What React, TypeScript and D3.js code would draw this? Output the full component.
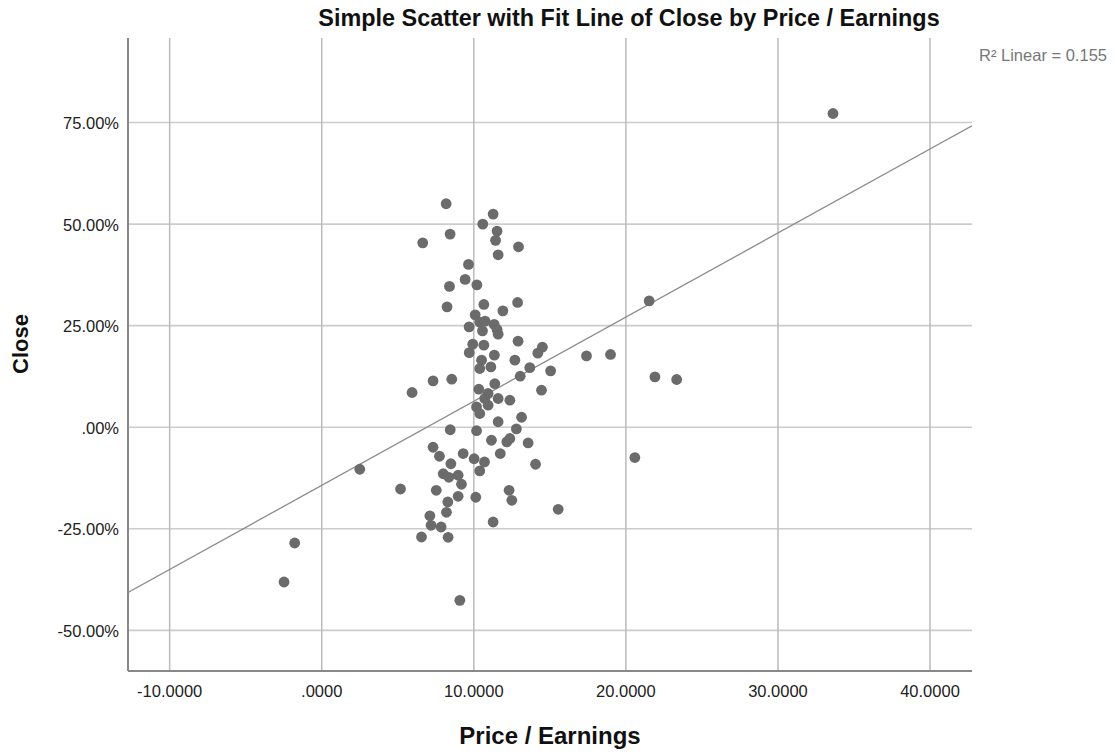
import * as d3 from "d3";
import { useEffect, useRef } from "react";

// Price / Earnings (x) and Close in % (y)
const peRatio = [
  8.18, 11.27, 10.59, 11.53, 6.64, 8.44, 11.43, 12.94, 11.6, 9.65,
  9.43, 10.2, 8.4, 8.24, 10.66, 12.88, 11.91, 10.09, 9.69, 10.39,
  10.74, 11.34, 11.53, 11.6, 10.57, 12.91, 9.93, 10.66, 9.7, 11.35,
  10.51, 10.39, 11.12, 12.7, 14.51, 14.21, 13.68, 15.05, 13.05, 7.32,
  8.55, 5.94, 14.45, 11.38, 10.33, 10.94, 10.72, 11.6, 12.37, 10.18,
  10.94, 10.39, 11.6, 13.14, 12.8, 10.18, 8.45, 11.16, 12.17, 12.37,
  11.74, 13.57, 7.32, 7.74, 9.3, 10.02, 10.7, 10.39, 14.06, 8.49,
  7.99, 8.36, 8.97, 9.19, 5.18, 7.53, 8.97, 10.13, 12.32, 12.5,
  8.29, 8.2, 15.55, 7.11, 7.19, 7.85, 11.27, 6.56, 8.31, 9.08,
  33.62, 21.53, 21.91, 23.34, 20.59, 18.99, 17.41, 2.5, -1.78, -2.48,
];
const closePct = [
  55.0, 52.46, 50.0, 48.28, 45.39, 47.54, 45.99, 44.41, 42.44, 40.07,
  36.38, 35.05, 34.66, 29.63, 30.22, 30.71, 28.65, 27.66, 24.7, 25.86,
  26.11, 25.3, 24.06, 22.91, 23.72, 21.18, 20.44, 20.2, 18.35, 17.73,
  16.5, 14.46, 14.85, 16.5, 19.7, 18.23, 14.66, 13.87, 12.56, 11.4,
  11.82, 8.55, 9.11, 10.71, 9.36, 8.3, 7.07, 7.07, 6.65, 5.0,
  5.42, 3.37, 1.35, 2.46, -0.42, -0.86, -0.62, -3.2, -3.62, -2.78,
  -6.48, -3.87, -4.93, -7.14, -6.48, -7.76, -8.55, -10.76, -9.11, -8.99,
  -11.45, -12.32, -11.82, -14.04, -15.2, -15.52, -17.0, -17.24, -15.52, -17.98,
  -18.4, -20.94, -20.2, -21.8, -24.14, -24.56, -23.33, -27.02, -27.09, -42.61,
  77.22, 31.11, 12.39, 11.75, -7.46, 17.91, 17.56, -10.34, -28.5, -38.1,
];

const xTicks = [-10, 0, 10, 20, 30, 40];
const xTickLabels = ["-10.0000", ".0000", "10.0000", "20.0000", "30.0000", "40.0000"];
const yTicks = [-50, -25, 0, 25, 50, 75];
const yTickLabels = ["-50.00%", "-25.00%", ".00%", "25.00%", "50.00%", "75.00%"];

// linear fit shown in the chart
const fitIntercept = -14.3;
const fitSlope = 2.07;
const r2Label = "R\u00b2 Linear = 0.155";

const App = () => {
  const svgRef = useRef(null);
  const width = 1119;
  const height = 752;
  const margin = { top: 38, bottom: 81, left: 128, right: 147 };

  useEffect(() => {
    const svg = d3.select(svgRef.current);
    svg.selectAll("*").remove();

    const font = "'Liberation Sans', Arial, sans-serif";
    const x = d3.scaleLinear().domain([-12.74, 42.76]).range([margin.left, width - margin.right]);
    const y = d3.scaleLinear().domain([-60, 95.8]).range([height - margin.bottom, margin.top]);
    const [x0, x1] = x.range();
    const [yb, yt] = y.range();

    // gridlines
    svg.append("g").selectAll("line").data(yTicks).enter().append("line")
      .attr("x1", x0).attr("x2", x1)
      .attr("y1", d => y(d)).attr("y2", d => y(d))
      .attr("stroke", "#cccccc").attr("stroke-width", 1.6);
    svg.append("g").selectAll("line").data(xTicks).enter().append("line")
      .attr("x1", d => x(d)).attr("x2", d => x(d))
      .attr("y1", yt).attr("y2", yb)
      .attr("stroke", "#bbbbbb").attr("stroke-width", 1.5);

    // axis lines
    svg.append("line").attr("x1", x0).attr("x2", x0).attr("y1", yt).attr("y2", yb)
      .attr("stroke", "#888").attr("stroke-width", 2);
    svg.append("line").attr("x1", x0).attr("x2", x1).attr("y1", yb).attr("y2", yb)
      .attr("stroke", "#888").attr("stroke-width", 2);

    // tick labels
    svg.append("g").selectAll("text").data(xTicks).enter().append("text")
      .attr("x", d => x(d)).attr("y", yb + 26)
      .attr("text-anchor", "middle")
      .attr("font-family", font).attr("font-size", 16.5).attr("fill", "#222")
      .text((d, i) => xTickLabels[i]);
    svg.append("g").selectAll("text").data(yTicks).enter().append("text")
      .attr("x", x0 - 9).attr("y", d => y(d) + 6.5)
      .attr("text-anchor", "end")
      .attr("font-family", font).attr("font-size", 16.5).attr("fill", "#222")
      .text((d, i) => yTickLabels[i]);

    // fit line, clipped to plot
    svg.append("clipPath").attr("id", "plotClip").append("rect")
      .attr("x", x0).attr("y", yt).attr("width", x1 - x0).attr("height", yb - yt);
    const [dx0, dx1] = x.domain();
    svg.append("line")
      .attr("clip-path", "url(#plotClip)")
      .attr("x1", x(dx0)).attr("y1", y(fitIntercept + fitSlope * dx0))
      .attr("x2", x(dx1)).attr("y2", y(fitIntercept + fitSlope * dx1))
      .attr("stroke", "#8c8c8c").attr("stroke-width", 1.3);

    // points
    svg.append("g").selectAll("circle").data(peRatio).enter().append("circle")
      .attr("cx", d => x(d)).attr("cy", (d, i) => y(closePct[i]))
      .attr("r", 5.4)
      .attr("fill", "#6b6b6b");

    // titles
    svg.append("text")
      .attr("x", 629).attr("y", 26)
      .attr("text-anchor", "middle")
      .attr("font-family", font).attr("font-weight", "bold").attr("font-size", 23.4)
      .attr("fill", "#111")
      .text("Simple Scatter with Fit Line of Close by Price / Earnings");
    svg.append("text")
      .attr("x", 550).attr("y", 744)
      .attr("text-anchor", "middle")
      .attr("font-family", font).attr("font-weight", "bold").attr("font-size", 24)
      .attr("fill", "#111")
      .text("Price / Earnings");
    svg.append("text")
      .attr("transform", "translate(28,344) rotate(-90)")
      .attr("text-anchor", "middle")
      .attr("font-family", font).attr("font-weight", "bold").attr("font-size", 22)
      .attr("fill", "#111")
      .text("Close");
    svg.append("text")
      .attr("x", 1107).attr("y", 61)
      .attr("text-anchor", "end")
      .attr("font-family", font).attr("font-size", 16.5)
      .attr("fill", "#777")
      .text(r2Label);
  });

  return (
    <svg
      ref={svgRef}
      width={width}
      height={height}
      style={{ position: "absolute", left: 0, top: 0, background: "#fff" }}
    />
  );
};

export default App;
